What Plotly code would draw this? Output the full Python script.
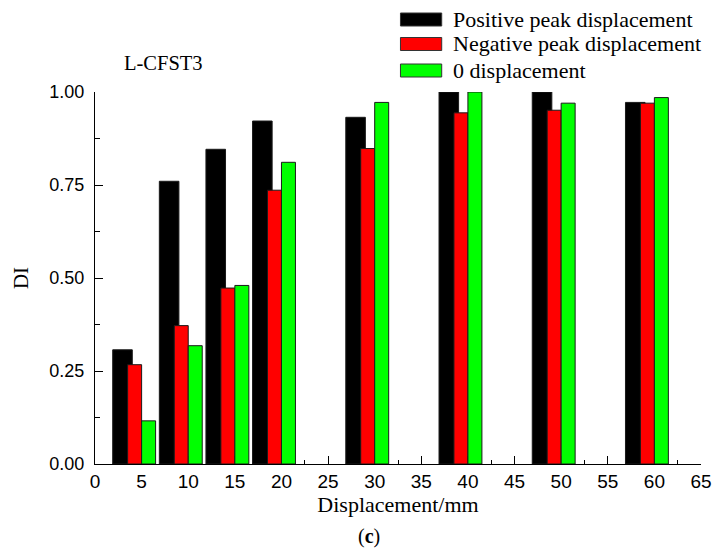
import plotly.graph_objects as go

# ---- data ----
displacement = [5, 10, 15, 20, 30, 40, 50, 60]
series_names = ["Positive peak displacement", "Negative peak displacement", "0 displacement"]
positive_peak = [0.307, 0.760, 0.846, 0.922, 0.932, 1.000, 1.000, 0.972]
negative_peak = [0.267, 0.372, 0.473, 0.736, 0.848, 0.944, 0.951, 0.970]
zero_disp = [0.116, 0.318, 0.480, 0.811, 0.972, 1.000, 0.970, 0.985]
x_ticks = list(range(0, 70, 5))
y_ticks = [0.0, 0.25, 0.5, 0.75, 1.0]

colors = ["#000000", "#ff0000", "#00ff00"]
W, H = 724, 557
ML, MR, MT, MB = 95, 12, 92, 93

fig = go.Figure()
specs = [(positive_peak, 2.1, -3.1), (negative_peak, 1.5, -1.5), (zero_disp, 1.5, 0.0)]
for (vals, w, off), name, col in zip(specs, series_names, colors):
    fig.add_trace(go.Bar(
        x=displacement, y=vals, name=name, width=w, offset=off,
        marker=dict(color=col, line=dict(color="#1a1a1a", width=1)),
        showlegend=False,
    ))

# pixel -> paper helpers
pw = W - ML - MR
ph = H - MT - MB
def px(x):
    return (x - ML) / pw
def py(y):
    return (H - MB - y) / ph

shapes = []
annotations = []
leg_rows = [19.5, 44, 70.5]
for name, col, yc in zip(series_names, colors, leg_rows):
    shapes.append(dict(type="rect", xref="paper", yref="paper",
                       x0=px(406), x1=px(448), y0=py(yc + 6.5), y1=py(yc - 6.5),
                       fillcolor=col, line=dict(color="#333", width=1)))
    annotations.append(dict(text=name, xref="paper", yref="paper", x=px(457), y=py(yc),
                            xanchor="left", yanchor="middle", showarrow=False,
                            font=dict(family="Liberation Serif", size=22, color="black")))

annotations.append(dict(text="L-CFST3", xref="paper", yref="paper", x=px(165), y=py(63),
                        xanchor="center", yanchor="middle", showarrow=False,
                        font=dict(family="Liberation Serif", size=20.5, color="black")))
annotations.append(dict(text="(<b>c</b>)", xref="paper", yref="paper", x=px(374), y=py(536),
                        xanchor="center", yanchor="middle", showarrow=False,
                        font=dict(family="Liberation Serif", size=20, color="black")))

fig.update_layout(
    width=W, height=H,
    margin=dict(l=ML, r=MR, t=MT, b=MB),
    paper_bgcolor="white", plot_bgcolor="white",
    barmode="overlay",
    shapes=shapes, annotations=annotations,
    font=dict(family="Liberation Sans", color="black"),
    xaxis=dict(range=[0, 65], tickvals=x_ticks, ticktext=[str(v) for v in x_ticks],
               showline=True, linecolor="black", linewidth=1.3,
               ticks="inside", ticklen=8, tickwidth=1.3, tickcolor="black",
               minor=dict(ticks="inside", ticklen=4, tickwidth=1.2, tickcolor="black", dtick=2.5),
               showgrid=False, zeroline=False, layer="below traces",
               tickfont=dict(family="Liberation Sans", size=19),
               title=dict(text="Displacement/mm", standoff=2,
                          font=dict(family="Liberation Serif", size=22))),
    yaxis=dict(range=[0, 1], tickvals=y_ticks, ticktext=["%.2f" % v for v in y_ticks],
               showline=True, linecolor="black", linewidth=1.3,
               ticks="inside", ticklen=8, tickwidth=1.3, tickcolor="black",
               ticklabelstandoff=6,
               minor=dict(ticks="inside", ticklen=5, tickwidth=1.2, tickcolor="black", dtick=0.125),
               showgrid=False, zeroline=False, layer="below traces",
               tickfont=dict(family="Liberation Sans", size=18),
               title=dict(text="DI", standoff=14,
                          font=dict(family="Liberation Serif", size=21))),
)

fig.write_html("out.html")
